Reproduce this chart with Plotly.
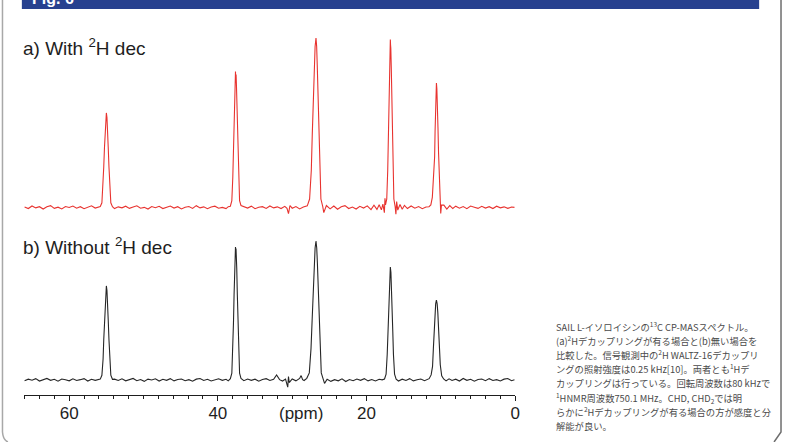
import plotly.graph_objects as go

W, H = 788, 442

# ---------------- data ----------------
# (a) With 2H decoupling  -- chemical shift (ppm) and intensity (a.u.)
ppm_a = [
    66.0, 65.5, 65.0, 64.5, 64.0, 63.5, 63.0, 62.5, 62.0, 61.5, 61.0, 60.5, 60.0, 59.5, 59.0, 58.5, 58.0, 57.5, 57.0, 56.5, 56.1,
    55.82, 55.60, 55.44, 55.35, 55.25, 55.16, 55.08, 55.00, 54.92, 54.84, 54.75, 54.65, 54.56, 54.40, 54.18,
    53.9, 53.4, 52.9, 52.4, 51.9, 51.4, 50.9, 50.4, 49.9, 49.4, 48.9, 48.4, 47.9, 47.4, 46.9, 46.4, 45.9, 45.4, 44.9, 44.4,
    43.9, 43.4, 42.9, 42.4, 41.9, 41.4, 40.9, 40.4, 39.9, 39.4, 38.9, 38.6,
    38.32, 38.12, 37.99, 37.90, 37.82, 37.74, 37.67, 37.63, 37.59, 37.55, 37.50, 37.45, 37.38, 37.30, 37.22, 37.08, 36.89,
    36.5, 36.0, 35.5, 35.0, 34.5, 34.0, 33.5, 33.0, 32.5, 32.0, 31.5, 31.0, 30.7, 30.5, 30.3, 30.0, 29.5, 29.0, 28.5,
    27.97, 27.66, 27.43, 27.30, 27.16, 27.03, 26.92, 26.80, 26.71, 26.63, 26.52, 26.42, 26.31, 26.14, 25.89, 25.75,
    25.4, 24.9, 24.4, 23.9, 23.4, 22.9, 22.4, 21.9, 21.4, 20.9, 20.4, 19.9, 19.4, 19.0, 18.6, 18.3, 18.0, 17.8,
    17.60, 17.52, 17.45, 17.28, 17.15, 17.075, 17.0, 16.925, 16.865, 16.83, 16.80, 16.77, 16.735, 16.675, 16.60, 16.525,
    16.45, 16.325, 16.15, 16.05, 15.95,
    15.8, 15.5, 15.2, 14.9, 14.5, 14.0, 13.5, 13.0, 12.5, 12.0, 11.6,
    11.35, 11.15, 11.02, 10.96, 10.90, 10.84, 10.78, 10.72, 10.66, 10.60, 10.54, 10.47, 10.39, 10.31, 10.23, 10.10, 10.02, 9.92,
    9.6, 9.2, 8.8, 8.4, 8.0, 7.5, 7.0, 6.5, 6.0, 5.5, 5.0, 4.5, 4.0, 3.5, 3.0, 2.5, 2.0, 1.5, 1.0, 0.5, 0.1,
]
int_a = [
    0.3, -0.6, 0.9, -0.2, 0.5, -0.9, 0.4, 1.1, -0.5, 0.2, -0.8, 0.6, 0.0, 0.9, -0.4, 0.5, -0.7, 0.3, 1.0, -0.3, 0.4,
    0.6, 2.8, 12.5, 24.0, 35.7, 46.9, 53.0, 55.8, 53.0, 46.9, 35.7, 24.0, 12.5, 2.8, 0.5,
    -0.6, 0.4, -0.2, 0.8, -0.5, 0.3, 1.0, -0.4, 0.1, -0.9, 0.6, -0.1, 0.7, -0.6, 0.2, 0.9, -0.3, 0.5, -0.8, 0.2,
    0.6, -0.5, 1.1, -0.2, 0.4, -0.7, 0.3, 0.8, -0.4, 0.1, -0.6, 0.5,
    0.8, 4.0, 18.0, 34.5, 51.3, 67.4, 76.2, 80.2, 73.5, 78.5, 72.0, 64.0, 51.3, 34.5, 18.0, 4.0, 1.2,
    0.6, -0.3, 0.8, -0.7, 0.2, 0.5, -0.5, 0.9, -0.2, 0.4, -0.6, 0.7, -0.5, -3.6, 1.2, -0.4, 0.6, -0.8, 0.3,
    1.0, 5.0, 22.0, 43.0, 64.0, 84.0, 95.0, 100.0, 95.0, 84.0, 64.0, 43.0, 22.0, 5.0, 0.5, -3.0,
    1.2, -0.8, 0.9, -1.0, 0.4, 1.1, -0.6, 0.3, -0.9, 0.7, -0.3, 1.0, -1.2, 1.4, -1.1, 1.6, -1.4, 2.0,
    -3.0, 5.5, 1.5, 5.0, 22.0, 42.6, 63.4, 83.2, 94.1, 97.0, 99.1, 96.0, 94.1, 83.2, 63.4, 42.6,
    22.0, 5.0, 0.5, -4.0, 3.5,
    -1.5, 1.8, -1.0, 1.3, -0.6, 0.9, -0.4, 0.6, -0.7, 0.3, 0.5,
    1.5, 6.0, 16.0, 21.0, 22.5, 30.0, 45.0, 58.0, 69.0, 73.5, 70.0, 62.0, 47.0, 32.0, 17.0, 4.0, -3.5, 1.5,
    1.4, -0.9, 1.1, -0.6, 0.8, -0.4, 0.6, -0.7, 0.9, 0.2, -0.5, 0.7, -0.3, 0.5, -0.6, 0.8, -0.2, 0.4, -0.5, 0.3, 0.1,
]

# (b) Without 2H decoupling
ppm_b = [
    66.0, 65.5, 65.0, 64.5, 64.0, 63.5, 63.0, 62.5, 62.0, 61.5, 61.0, 60.5, 60.0, 59.5, 59.0, 58.5, 58.0, 57.5, 57.0, 56.5, 56.1,
    55.82, 55.60, 55.44, 55.35, 55.25, 55.16, 55.08, 55.00, 54.92, 54.84, 54.75, 54.65, 54.56, 54.40, 54.18,
    53.9, 53.4, 52.9, 52.4, 51.9, 51.4, 50.9, 50.4, 49.9, 49.4, 48.9, 48.4, 47.9, 47.4, 46.9, 46.4, 45.9, 45.4, 44.9, 44.4,
    43.9, 43.4, 42.9, 42.4, 41.9, 41.4, 40.9, 40.4, 39.9, 39.4, 38.9, 38.6,
    38.32, 38.12, 37.99, 37.90, 37.82, 37.74, 37.67, 37.63, 37.60, 37.56, 37.53, 37.46, 37.38, 37.30, 37.22, 37.08, 36.89,
    36.5, 36.0, 35.5, 35.0, 34.5, 34.0, 33.5, 33.0, 32.5, 32.1, 31.7, 31.3, 30.9, 30.6, 30.5, 30.4, 30.0, 29.5, 29.0, 28.8, 28.6, 28.4,
    28.04, 27.70, 27.47, 27.32, 27.18, 27.04, 26.92, 26.80, 26.70, 26.61, 26.50, 26.39, 26.28, 26.09, 25.83, 25.65,
    25.3, 24.8, 24.3, 23.8, 23.3, 22.8, 22.3, 21.8, 21.3, 20.8, 20.3, 19.8, 19.3, 18.8, 18.3, 17.9,
    17.58, 17.37, 17.22, 17.13, 17.04, 16.95, 16.88, 16.80, 16.72, 16.65, 16.56, 16.47, 16.38, 16.23, 16.02,
    15.7, 15.2, 14.7, 14.2, 13.7, 13.2, 12.7, 12.2, 11.8,
    11.58, 11.31, 11.18, 11.12, 11.01, 10.90, 10.79, 10.70, 10.60, 10.50, 10.41, 10.30, 10.19, 10.08, 9.89, 9.63,
    9.3, 8.9, 8.5, 8.0, 7.5, 7.0, 6.5, 6.0, 5.5, 5.0, 4.5, 4.0, 3.5, 3.0, 2.5, 2.0, 1.5, 1.0, 0.5, 0.1,
]
int_b = [
    -0.4, 0.5, -0.1, 0.8, -0.6, 0.3, 0.9, -0.2, 0.4, -0.7, 0.6, 0.1, -0.5, 0.7, -0.3, 0.2, 0.8, -0.6, 0.4, -0.2, 0.3,
    0.5, 2.8, 12.4, 23.9, 35.5, 46.6, 52.7, 55.5, 52.7, 46.6, 35.5, 23.9, 12.4, 2.8, 0.4,
    0.5, -0.3, 0.7, -0.5, 0.2, 0.9, -0.4, 0.3, -0.8, 0.5, 0.0, 0.7, -0.6, 0.4, -0.2, 0.8, -0.5, 0.3, 0.6, -0.4,
    0.2, -0.7, 0.5, 0.9, -0.3, 0.4, -0.6, 0.2, 0.7, -0.2, 0.4, -0.5,
    0.8, 4.0, 17.5, 33.8, 50.2, 65.9, 74.9, 78.5, 75.0, 77.5, 74.9, 65.9, 50.2, 33.8, 17.5, 4.0, 0.9,
    -0.4, 0.6, -0.2, 0.5, -0.7, 0.3, 0.8, -0.3, 0.4, 3.0, 0.2, -0.6, 0.5, -4.2, 2.0, -1.5, 0.6, -0.5, 0.9, 2.6, 0.2, -0.3,
    1.0, 4.2, 18.5, 35.3, 52.5, 68.9, 77.9, 82.0, 77.9, 68.9, 52.5, 35.3, 18.5, 4.2, 0.5, -2.0,
    0.4, -0.8, 0.2, -0.5, 0.7, -0.9, 0.3, -0.4, 0.6, -0.2, 0.8, -0.5, 0.3, -0.6, 0.4, 0.1,
    0.6, 3.4, 15.0, 28.7, 42.7, 56.0, 63.4, 66.7, 63.4, 56.0, 42.7, 28.7, 15.0, 3.4, 0.5,
    -0.6, 0.5, -0.3, 0.8, -0.5, 0.2, 0.6, -0.4, 0.3,
    0.8, 3.0, 6.0, 8.0, 18.5, 30.3, 39.6, 44.9, 47.2, 44.9, 39.6, 30.3, 18.5, 9.0, 2.5, 0.6,
    -0.5, 0.7, -0.3, 0.5, -0.6, 0.9, -0.2, 0.4, -0.7, 0.3, 0.6, -0.4, 0.8, -0.3, 0.2, -0.6, 0.5, 0.9, -0.4, 0.2,
]
assert len(ppm_a) == len(int_a), (len(ppm_a), len(int_a))
assert len(ppm_b) == len(int_b), (len(ppm_b), len(int_b))

tick_vals = [60, 40, 20, 0]
tick_text = ["60", "40", "20", "0"]
x_range = [66.1, 0]
label_a = "a) With <sup>2</sup>H dec"
label_b = "b) Without <sup>2</sup>H dec"
axis_title = "(ppm)"
header_text = "Fig. 6"
caption_lines = [
    "SAIL L-イソロイシンの<sup>13</sup>C CP-MASスペクトル。",
    "(a)<sup>2</sup>Hデカップリングが有る場合と(b)無い場合を",
    "比較した。信号観測中の<sup>2</sup>H WALTZ-16デカップリ",
    "ングの照射強度は0.25 kHz[10]。両者とも<sup>1</sup>Hデ",
    "カップリングは行っている。回転周波数は80 kHzで",
    "<sup>1</sup>HNMR周波数750.1 MHz。CHD, CHD<sub>2</sub>では明",
    "らかに<sup>2</sup>Hデカップリングが有る場合の方が感度と分",
    "解能が良い。",
]

# ---------------- figure ----------------
def px(x):
    return x / W

def py(y):
    return 1 - y / H

SANS = "Liberation Sans, Arial, Helvetica, sans-serif"
CJK = "Noto Sans CJK JP, Noto Sans, sans-serif"
INK = "#1e1e1e"

fig = go.Figure()
fig.add_trace(go.Scatter(x=ppm_a, y=int_a, mode="lines", xaxis="x", yaxis="y",
                         line=dict(color="#e8332f", width=1.1), hoverinfo="skip"))
fig.add_trace(go.Scatter(x=ppm_b, y=int_b, mode="lines", xaxis="x2", yaxis="y2",
                         line=dict(color="#262626", width=1.1), hoverinfo="skip"))

xdom = [px(24), px(518.5)]
fig.update_layout(
    width=W, height=H, margin=dict(l=0, r=0, t=0, b=0),
    paper_bgcolor="white", plot_bgcolor="rgba(0,0,0,0)", showlegend=False,
    xaxis=dict(domain=xdom, range=x_range, visible=False, anchor="y"),
    yaxis=dict(domain=[py(217.7), py(34.6)], range=[-6, 102], visible=False, anchor="x"),
    xaxis2=dict(domain=xdom, range=x_range, anchor="y2", showline=True, linecolor=INK, linewidth=1.2,
                showgrid=False, zeroline=False, ticks="outside", tickvals=tick_vals, ticktext=tick_text,
                ticklen=5, tickwidth=1.2, tickcolor=INK, ticklabelstandoff=-3,
                tickfont=dict(family=SANS, size=17, color=INK),
                minor=dict(dtick=2, tick0=0, ticks="outside", ticklen=3, tickwidth=1, tickcolor=INK, showgrid=False)),
    yaxis2=dict(domain=[py(395), py(227.45)], range=[-8.85, 90], visible=False, anchor="x2"),
)

shapes = [
    dict(type="rect", xref="paper", yref="paper", x0=px(22), x1=px(764), y0=py(9), y1=py(0),
         fillcolor="#27418f", line=dict(width=0), layer="below"),
    dict(type="path", xref="paper", yref="paper",
         path=f"M {px(2.5)},{py(0)} L {px(2.5)},{py(432)} Q {px(3)},{py(440)} {px(8)},{py(442)}",
         line=dict(color="#a8a8a8", width=1.5)),
    dict(type="path", xref="paper", yref="paper",
         path=f"M {px(786)},{py(0)} L {px(786)},{py(432)} L {px(779)},{py(442)}",
         line=dict(color="#6e6e6e", width=1.5)),
]
fig.update_layout(shapes=shapes)

ann = [
    dict(text=header_text, x=px(30), y=py(-2), xanchor="left", yanchor="middle",
         font=dict(family=SANS, size=16, color="white", weight="bold")),
    dict(text=label_a, x=px(21), y=py(47), xanchor="left", yanchor="middle",
         font=dict(family=SANS, size=19, color=INK)),
    dict(text=label_b, x=px(21), y=py(246), xanchor="left", yanchor="middle",
         font=dict(family=SANS, size=19, color=INK)),
    dict(text=axis_title, x=px(303), y=py(413), xanchor="center", yanchor="middle",
         font=dict(family=SANS, size=17, color=INK)),
]
for i, line in enumerate(caption_lines):
    ann.append(dict(text=line, x=px(558), y=py(326 + 14.3 * i), xanchor="left", yanchor="middle",
                    font=dict(family=CJK, size=9.3, color="#4a4a4a")))
for a in ann:
    a.update(xref="paper", yref="paper", showarrow=False)
fig.update_layout(annotations=ann)

fig.write_html("out.html")
